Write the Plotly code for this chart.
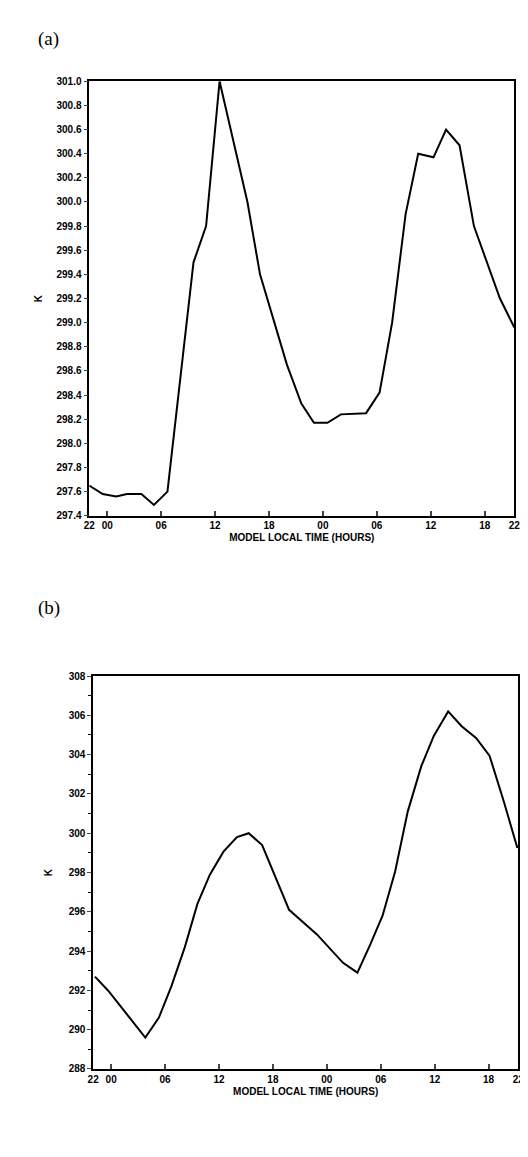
import plotly.graph_objects as go

# panel (a) - hours since 22 LT of day 1
hours_a = [0, 1.5, 3, 4.2, 5.8, 7.2, 8.7, 11.6, 13, 14.5, 17.6, 19, 22, 23.6, 25, 26.5,
           28, 30.8, 32.3, 33.7, 35.2, 36.6, 38.3, 39.7, 41.2, 42.8, 45.7, 47.3]
temp_a = [297.65, 297.58, 297.56, 297.58, 297.58, 297.49, 297.6, 299.5, 299.8, 301.0,
          300.0, 299.4, 298.65, 298.33, 298.17, 298.17, 298.24, 298.25, 298.42, 299.0,
          299.9, 300.4, 300.37, 300.6, 300.47, 299.8, 299.2, 298.96]

# panel (b)
hours_b = [0.2, 1.7, 5.8, 7.3, 8.7, 10.2, 11.6, 13, 14.5, 16, 17.3, 18.8, 21.8, 23.3,
           24.9, 27.8, 29.4, 30.8, 32.2, 33.6, 35, 36.5, 37.9, 39.5, 41, 42.6, 44.1,
           45.7, 47.2]
temp_b = [292.7, 291.97, 289.6, 290.6, 292.2, 294.2, 296.4, 297.9, 299.06, 299.8, 300.0,
          299.4, 296.1, 295.5, 294.85, 293.4, 292.9, 294.3, 295.8, 298.05, 301.1, 303.4,
          304.95, 306.2, 305.45, 304.85, 303.95, 301.6, 299.25]

tick_pos = [0, 2, 8, 14, 20, 26, 32, 38, 44, 47.3]
tick_txt = ["22", "00", "06", "12", "18", "00", "06", "12", "18", "22"]

W, H = 528, 1157
fig = go.Figure()
fig.add_trace(go.Scatter(x=hours_a, y=temp_a, mode="lines",
                         line=dict(color="black", width=2), xaxis="x", yaxis="y"))
fig.add_trace(go.Scatter(x=hours_b, y=temp_b, mode="lines",
                         line=dict(color="black", width=2), xaxis="x2", yaxis="y2"))

fnt = dict(family="Liberation Sans", size=10, color="black", weight="bold")
xcommon = dict(range=[0, 47.3], tickvals=tick_pos, ticktext=tick_txt, ticks="inside",
               ticklen=5, tickwidth=1.5, showline=True, linecolor="black", linewidth=1.5,
               mirror=True, showgrid=False, zeroline=False, tickfont=fnt,
               title=dict(text="MODEL LOCAL TIME (HOURS)", font=fnt, standoff=4))
fig.update_layout(
    width=W, height=H, margin=dict(l=0, r=0, t=0, b=0),
    paper_bgcolor="white", plot_bgcolor="white", showlegend=False,
    xaxis=dict(domain=[77 / W, 512 / W], anchor="y", **xcommon),
    xaxis2=dict(domain=[81 / W, 516 / W], anchor="y2", **xcommon),
    yaxis=dict(domain=[1 - 507 / H, 1 - 68 / H], anchor="x", range=[297.4, 301.0],
               dtick=0.2, tickformat=".1f", ticks="outside", ticklen=4,
               showline=True, linecolor="black", linewidth=1.5, mirror=True,
               showgrid=False, zeroline=False, tickfont=fnt,
               title=dict(text="K", font=fnt, standoff=12)),
    yaxis2=dict(domain=[1 - 1066 / H, 1 - 669 / H], anchor="x2", range=[288, 308],
                dtick=2, ticks="outside", ticklen=4,
                minor=dict(dtick=1, ticks="outside", ticklen=3, tickcolor="black"),
                showline=True, linecolor="black", linewidth=1.5, mirror=True,
                showgrid=False, zeroline=False, tickfont=fnt,
                title=dict(text="K", font=fnt, standoff=14)),
)
lbl = dict(family="Liberation Serif", size=19, color="black")
fig.add_annotation(text="(a)", x=22 / W, y=1 - 12 / H, xref="paper", yref="paper",
                   showarrow=False, xanchor="left", font=lbl)
fig.add_annotation(text="(b)", x=22 / W, y=1 - 600 / H, xref="paper", yref="paper",
                   showarrow=False, xanchor="left", font=lbl)
fig.write_html("out.html")
